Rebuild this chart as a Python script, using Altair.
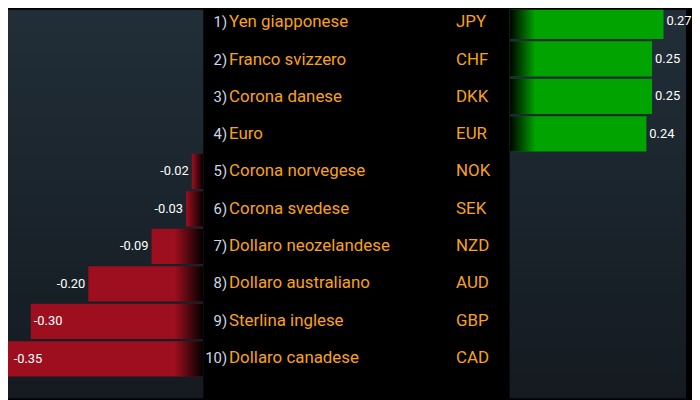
import altair as alt
import pandas as pd

ranks = ["1)", "2)", "3)", "4)", "5)", "6)", "7)", "8)", "9)", "10)"]
names = ["Yen giapponese", "Franco svizzero", "Corona danese", "Euro",
         "Corona norvegese", "Corona svedese", "Dollaro neozelandese",
         "Dollaro australiano", "Sterlina inglese", "Dollaro canadese"]
codes = ["JPY", "CHF", "DKK", "EUR", "NOK", "SEK", "NZD", "AUD", "GBP", "CAD"]
values = [0.27, 0.25, 0.25, 0.24, -0.02, -0.03, -0.09, -0.20, -0.30, -0.35]
labels = ["0.27", "0.25", "0.25", "0.24", "-0.02", "-0.03", "-0.09",
          "-0.20", "-0.30", "-0.35"]

df = pd.DataFrame({"rank": ranks, "name": names, "code": codes,
                   "value": values, "label": labels})
one = pd.DataFrame({"k": [0]})

# the page has an 8px margin: the panels cover what lies right/below of it
H = 392
LW, MW, RW = 197, 309, 178
PX_L, PX_R = 580.0, 575.0
FONT = "Roboto, Liberation Sans, sans-serif"

yenc = alt.Y("code:N", sort=codes, axis=None,
             scale=alt.Scale(domain=codes, range=[-6, 370],
                             paddingInner=0.06, paddingOuter=0))

bg_grad = alt.LinearGradient(
    gradient="linear", x1=0, x2=0, y1=0, y2=1,
    stops=[alt.GradientStop(color="#212e38", offset=0),
           alt.GradientStop(color="#141a20", offset=1)])
red_fade = alt.LinearGradient(
    gradient="linear", x1=0, x2=1, y1=0, y2=0,
    stops=[alt.GradientStop(color="rgba(0,0,0,0)", offset=0),
           alt.GradientStop(color="rgba(0,0,0,1)", offset=1)])
green_fade = alt.LinearGradient(
    gradient="linear", x1=0, x2=1, y1=0, y2=0,
    stops=[alt.GradientStop(color="rgba(0,0,0,1)", offset=0),
           alt.GradientStop(color="rgba(0,0,0,0)", offset=1)])


def background(w):
    return alt.Chart(one).mark_rect(fill=bg_grad).encode(
        x=alt.value(0), x2=alt.value(w), y=alt.value(0), y2=alt.value(H))


# ---------- left panel (negative) ----------
lx = alt.Scale(domain=[-LW / PX_L, 0], nice=False, zero=False)
base_l = alt.Chart(df).transform_filter("datum.value < 0")
left = alt.layer(
    background(LW),
    base_l.mark_bar(color="#9d0f1e", clip=True).encode(
        x=alt.X("value:Q", scale=lx, axis=None), x2=alt.datum(0), y=yenc),
    base_l.transform_calculate(fs="max(datum.value, -0.05)").mark_bar(
        fill=red_fade, clip=True).encode(
        x=alt.X("fs:Q", scale=lx, axis=None), x2=alt.datum(0), y=yenc),
    base_l.transform_filter("datum.value > -0.25").mark_text(
        align="right", baseline="middle", dx=-3, color="#ffffff",
        font=FONT, fontSize=13).encode(
        x=alt.X("value:Q", scale=lx, axis=None), y=yenc, text="label:N"),
    base_l.transform_filter("datum.value <= -0.25").transform_calculate(
        lp="max(datum.value, -0.335)").mark_text(
        align="left", baseline="middle", dx=3, color="#ffffff",
        font=FONT, fontSize=13).encode(
        x=alt.X("lp:Q", scale=lx, axis=None), y=yenc, text="label:N"),
).properties(width=LW, height=H)

# ---------- middle panel (table) ----------
base_m = alt.Chart(df)
mid = alt.layer(
    base_m.mark_text(align="right", baseline="middle", color="#cdd8ea",
                     font=FONT, fontSize=15).encode(
        x=alt.value(24), y=yenc, text="rank:N"),
    base_m.mark_text(align="left", baseline="middle", color="#f9a21b",
                     font=FONT, fontSize=17).encode(
        x=alt.value(26), y=yenc, text="name:N"),
    base_m.mark_text(align="left", baseline="middle", color="#f9a21b",
                     font=FONT, fontSize=17).encode(
        x=alt.value(255), y=yenc, text="code:N"),
).properties(width=MW, height=H)

# ---------- right panel (positive) ----------
rx = alt.Scale(domain=[0, RW / PX_R], nice=False, zero=False)
base_r = alt.Chart(df).transform_filter("datum.value > 0")
right = alt.layer(
    background(RW),
    base_r.mark_bar(color="#00a300", clip=True).encode(
        x=alt.X("value:Q", scale=rx, axis=None), x2=alt.datum(0), y=yenc),
    base_r.transform_calculate(fs="min(datum.value, 0.045)").mark_bar(
        fill=green_fade, clip=True).encode(
        x=alt.X("fs:Q", scale=rx, axis=None), x2=alt.datum(0), y=yenc),
    base_r.mark_text(align="left", baseline="middle", dx=3, color="#ffffff",
                     font=FONT, fontSize=13).encode(
        x=alt.X("value:Q", scale=rx, axis=None), y=yenc, text="label:N"),
).properties(width=RW, height=H)

chart = alt.hconcat(left, mid, right, spacing=0).properties(
    padding=0, bounds="flush", background="#000000"
).configure_view(stroke=None)

chart.save("out.html", embed_options={"renderer": "svg", "actions": False})
